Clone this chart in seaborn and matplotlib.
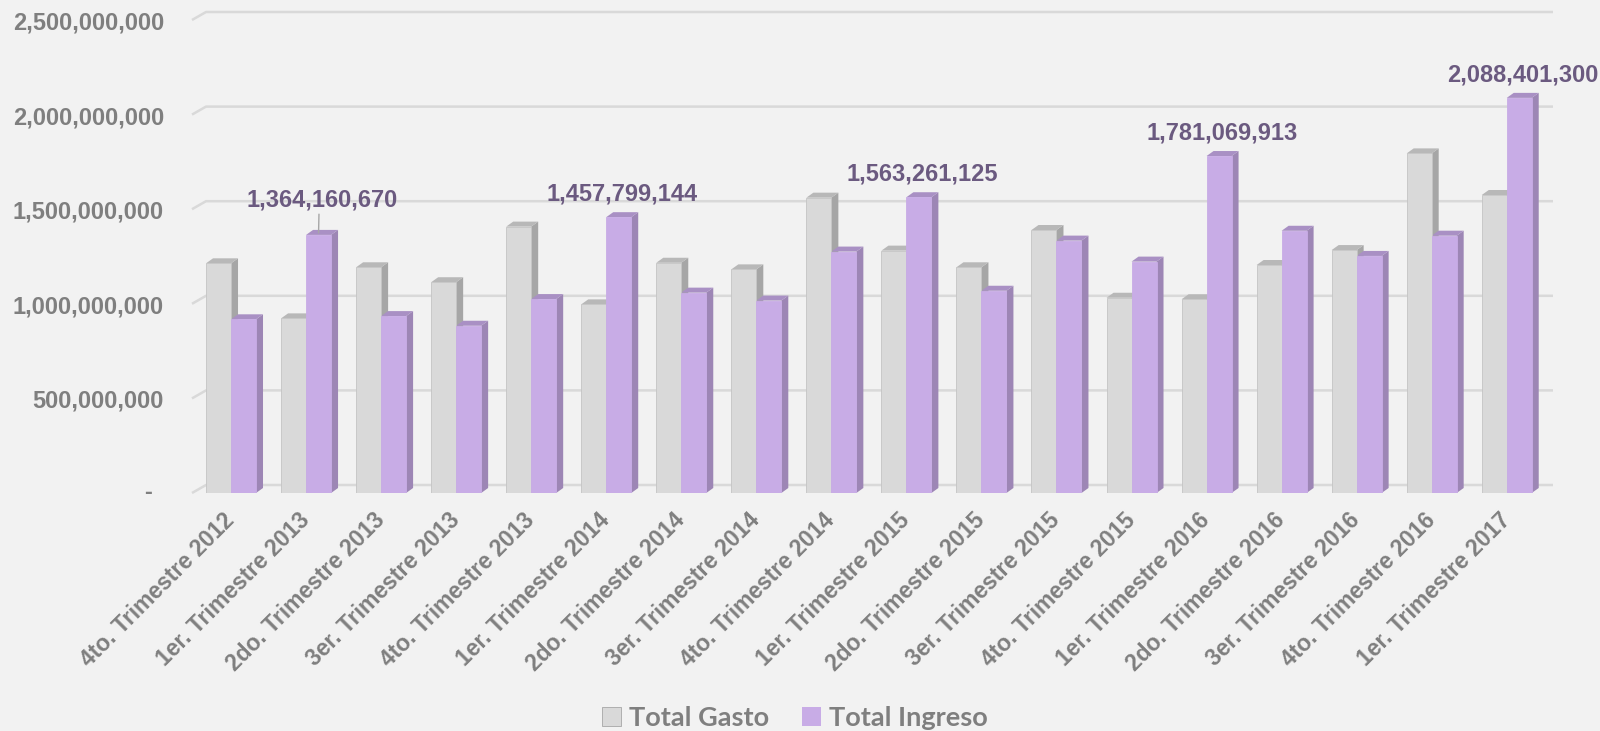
import matplotlib
matplotlib.use("Agg")
import matplotlib.pyplot as plt
from matplotlib.patches import Polygon, Patch
import seaborn as sns
import pandas as pd

# data (pesos)
trimestres = ["4to. Trimestre 2012", "1er. Trimestre 2013", "2do. Trimestre 2013", "3er. Trimestre 2013",
              "4to. Trimestre 2013", "1er. Trimestre 2014", "2do. Trimestre 2014", "3er. Trimestre 2014",
              "4to. Trimestre 2014", "1er. Trimestre 2015", "2do. Trimestre 2015", "3er. Trimestre 2015",
              "4to. Trimestre 2015", "1er. Trimestre 2016", "2do. Trimestre 2016", "3er. Trimestre 2016",
              "4to. Trimestre 2016", "1er. Trimestre 2017"]
total_gasto = [1214e6, 923e6, 1193e6, 1114e6, 1408e6, 997e6, 1217e6, 1182e6, 1561e6,
               1281e6, 1193e6, 1390e6, 1032e6, 1024e6, 1205e6, 1284e6, 1795e6, 1575e6]
total_ingreso = [918e6, 1364160670, 935e6, 884e6, 1025e6, 1457799144, 1059e6, 1017e6, 1276e6,
                 1563261125, 1069e6, 1334e6, 1223e6, 1781069913, 1386e6, 1253e6, 1360e6, 2088401300]
labeled = [1, 5, 9, 13, 17]  # bars with a data label
y_ticks = [0, 500e6, 1000e6, 1500e6, 2000e6, 2500e6]
series = ["Total Gasto", "Total Ingreso"]

df = pd.DataFrame({
    "trimestre": trimestres * 2,
    "valor": total_gasto + total_ingreso,
    "serie": [series[0]] * len(trimestres) + [series[1]] * len(trimestres),
})

bg = "#f2f2f2"
front = {"Total Gasto": "#d9d9d9", "Total Ingreso": "#c8ace6"}
side = {"Total Gasto": "#a6a6a6", "Total Ingreso": "#9d86b5"}
top = {"Total Gasto": "#b8b8b8", "Total Ingreso": "#a990c4"}
grey_txt = "#7f7f7f"
lab_col = "#6b5a80"

plt.rcParams["font.family"] = ["Liberation Sans", "DejaVu Sans"]

W, H = 1600, 731
fig = plt.figure(figsize=(16, 7.31), dpi=100, facecolor=bg)
ax_l, ax_b, ax_w, ax_h = 192 / W, 1 - 493 / H, (1539 - 192) / W, 473 / H
ax = fig.add_axes([ax_l, ax_b, ax_w, ax_h], facecolor=bg)

sns.barplot(data=df, x="trimestre", y="valor", hue="serie", palette=front,
            width=0.666, saturation=1, ax=ax, legend=False, zorder=3)

xlim = (-0.52, 17.43)
ylim = (0, 2.5e9)
ax.set_xlim(xlim)
ax.set_ylim(ylim)

# pixel -> data conversion for the fake 3d depth
px_x = (xlim[1] - xlim[0]) / (ax_w * W)
px_y = (ylim[1] - ylim[0]) / (ax_h * H)
bdx, bdy = 7 * px_x, 5 * px_y      # bar depth
wdx, wdy = 14 * px_x, 8 * px_y     # back wall depth

# back wall gridlines
for v in y_ticks:
    ax.plot([xlim[0], xlim[0] + wdx, xlim[1] + wdx], [v, v + wdy, v + wdy],
            color="#d9d9d9", lw=1.8, zorder=1, clip_on=False, solid_capstyle="butt")

# sides and tops of the bars
for i, bar in enumerate(ax.patches):
    name = series[0] if i < len(trimestres) else series[1]
    x0, w, h = bar.get_x(), bar.get_width(), bar.get_height()
    x1 = x0 + w
    bar.set_edgecolor("#c4c4c4" if name == series[0] else front[name])
    bar.set_linewidth(0.6)
    ax.add_patch(Polygon([(x1, 0), (x1 + bdx, bdy), (x1 + bdx, h + bdy), (x1, h)],
                         closed=True, fc=side[name], ec="none", zorder=2, clip_on=False))
    ax.add_patch(Polygon([(x0, h), (x1, h), (x1 + bdx, h + bdy), (x0 + bdx, h + bdy)],
                         closed=True, fc=top[name], ec="none", zorder=2, clip_on=False))

# data labels on the ingreso bars
ing_bars = ax.patches[len(trimestres):2 * len(trimestres)]
for k in labeled:
    bar = ing_bars[k]
    xc = bar.get_x() + bar.get_width() / 2
    val = total_ingreso[k]
    if k == 1:
        ax.annotate(f"{val:,.0f}", xy=(xc, val + 2 * px_y), xytext=(3.5, 33), textcoords="offset pixels",
                    ha="center", va="center", fontsize=17, fontweight="bold", color=lab_col,
                    arrowprops=dict(arrowstyle="-", color="#a6a6a6", lw=1, shrinkA=0, shrinkB=0,
                                    relpos=(0.48, 0)),
                    annotation_clip=False, zorder=5)
    else:
        ax.annotate(f"{val:,.0f}", xy=(xc, val), xytext=(3.5, 23), textcoords="offset pixels",
                    ha="center", va="center", fontsize=17, fontweight="bold", color=lab_col,
                    annotation_clip=False, zorder=5)

# axes styling
for s in ax.spines.values():
    s.set_visible(False)
ax.set_xlabel("")
ax.set_ylabel("")
ax.tick_params(axis="both", length=0)
ax.set_yticks(y_ticks)
ax.set_yticklabels([])
ytrans = ax.get_yaxis_transform()
for v in y_ticks:
    if v == 0:
        ax.text(-44 / (ax_w * W), v, "-", transform=ytrans, ha="center", va="center",
                fontsize=17, fontweight="bold", color=grey_txt)
    else:
        ax.text(-28 / (ax_w * W), v - 3 * px_y, f"{v:,.0f}", transform=ytrans, ha="right", va="center",
                fontsize=17, fontweight="bold", color=grey_txt)

ax.set_xticks(range(len(trimestres)))
ax.set_xticklabels(trimestres, fontsize=16.5, fontweight="bold", color=grey_txt)
ax.tick_params(axis="x", pad=17)
plt.setp(ax.get_xticklabels(), rotation=45, ha="right", va="center", rotation_mode="anchor")

handles = [Patch(facecolor=front[series[0]], edgecolor="#a6a6a6", lw=0.6),
           Patch(facecolor=front[series[1]], edgecolor="none")]
fig.legend(handles, series, loc="center", bbox_to_anchor=(795 / W, 1 - 718 / H), ncol=2, frameon=False,
           prop={"family": ["Lato", "DejaVu Sans"], "weight": "bold", "size": 19.5},
           labelcolor=grey_txt, handlelength=0.7, handleheight=0.7, handletextpad=0.3,
           columnspacing=1.2)

fig.savefig("out.png", dpi=100, facecolor=bg)
